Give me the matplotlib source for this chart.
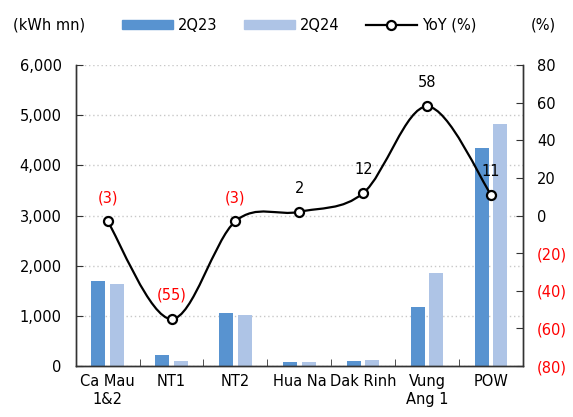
import numpy as np
import matplotlib
matplotlib.use("Agg")
import matplotlib.pyplot as plt
from matplotlib.path import Path
from matplotlib.patches import PathPatch, Patch
from matplotlib.lines import Line2D
import matplotlib.ticker as ticker

# ---- data ----
categories = ['Ca Mau\n1&2', 'NT1', 'NT2', 'Hua Na', 'Dak Rinh', 'Vung\nAng 1', 'POW']
q23 = [1700, 220, 1050, 75, 100, 1170, 4340]
q24 = [1640, 100, 1020, 75, 120, 1850, 4820]
yoy = [-3, -55, -3, 2, 12, 58, 11]

c23 = '#5893D0'
c24 = '#AEC4E6'
red = '#FF0000'
fs = 10.5

plt.rcParams['font.family'] = 'DejaVu Sans'
plt.rcParams['font.size'] = fs

fig = plt.figure(figsize=(5.73, 4.17), dpi=100)
ax = fig.add_axes([0.132, 0.122, 0.781, 0.722])
ax2 = ax.twinx()

x = np.arange(len(categories))
w = 0.22
off = 0.143
ax.bar(x - off, q23, w, color=c23, zorder=2)
ax.bar(x + off, q24, w, color=c24, zorder=2)

ax.set_xlim(-0.5, len(categories) - 0.5)
ax.set_ylim(0, 6000)
ax.set_yticks(np.arange(0, 6001, 1000))
ax.yaxis.set_major_formatter(ticker.FuncFormatter(lambda v, p: f'{v:,.0f}'))
ax.grid(axis='y', linestyle=(0, (1, 2)), color='#C8C8C8', linewidth=1.0, zorder=0)
ax.set_axisbelow(True)

ax.set_xticks(x)
ax.set_xticklabels(categories)
ax.set_xticks(x[:-1] + 0.5, minor=True)
ax.tick_params(axis='x', which='major', length=0, pad=6)
ax.tick_params(axis='x', which='minor', direction='in', length=5, color='#333333')
ax.tick_params(axis='y', direction='in', length=5, color='#333333', pad=10)

# ---- right axis ----
ax2.set_ylim(-80, 80)
ax2.set_yticks(np.arange(-80, 81, 20))
ax2.yaxis.set_major_formatter(
    ticker.FuncFormatter(lambda v, p: f'({abs(v):.0f})' if v < 0 else f'{v:.0f}'))
ax2.tick_params(axis='y', direction='in', length=5, color='#333333', pad=10)
for lbl, v in zip(ax2.get_yticklabels(), ax2.get_yticks()):
    if v < 0:
        lbl.set_color(red)

for a in (ax, ax2):
    a.spines['top'].set_visible(False)
    for s in ('left', 'right', 'bottom'):
        a.spines[s].set_color('#333333')
        a.spines[s].set_linewidth(1.0)

# ---- smoothed YoY line (Catmull-Rom Bezier through the points) ----
pts = np.column_stack([x, yoy]).astype(float)
verts = [tuple(pts[0])]
codes = [Path.MOVETO]
n = len(pts)
for i in range(n - 1):
    p0 = pts[i - 1] if i > 0 else pts[i]
    p1 = pts[i]
    p2 = pts[i + 1]
    p3 = pts[i + 2] if i + 2 < n else pts[i + 1]
    verts += [tuple(p1 + (p2 - p0) / 6), tuple(p2 - (p3 - p1) / 6), tuple(p2)]
    codes += [Path.CURVE4] * 3
ax2.add_patch(PathPatch(Path(verts, codes), facecolor='none', edgecolor='black',
                        linewidth=1.6, zorder=4))
ax2.plot(x, yoy, linestyle='none', marker='o', markersize=6.5,
         markerfacecolor='white', markeredgecolor='black', markeredgewidth=1.6, zorder=5)

for xi, v in zip(x, yoy):
    txt = f'({abs(v)})' if v < 0 else f'{v}'
    ax2.annotate(txt, (xi, v), xytext=(0, 17), textcoords='offset points',
                 ha='center', va='center', fontsize=fs,
                 color=red if v < 0 else 'black', zorder=6)

# ---- legend & unit labels ----
handles = [Patch(color=c23), Patch(color=c24),
           Line2D([0], [0], color='black', linewidth=1.6, marker='o', markersize=6.5,
                  markerfacecolor='white', markeredgecolor='black', markeredgewidth=1.6)]
fig.legend(handles, ['2Q23', '2Q24', 'YoY (%)'], loc='center', ncol=3,
           bbox_to_anchor=(0.522, 0.94), frameon=False, fontsize=fs,
           handlelength=3.5, handleheight=0.6, handletextpad=0.35, columnspacing=1.8)
fig.text(0.086, 0.94, '(kWh mn)', ha='center', va='center', fontsize=fs)
fig.text(0.948, 0.94, '(%)', ha='center', va='center', fontsize=fs)

fig.savefig('out.png', dpi=100, facecolor='white')
